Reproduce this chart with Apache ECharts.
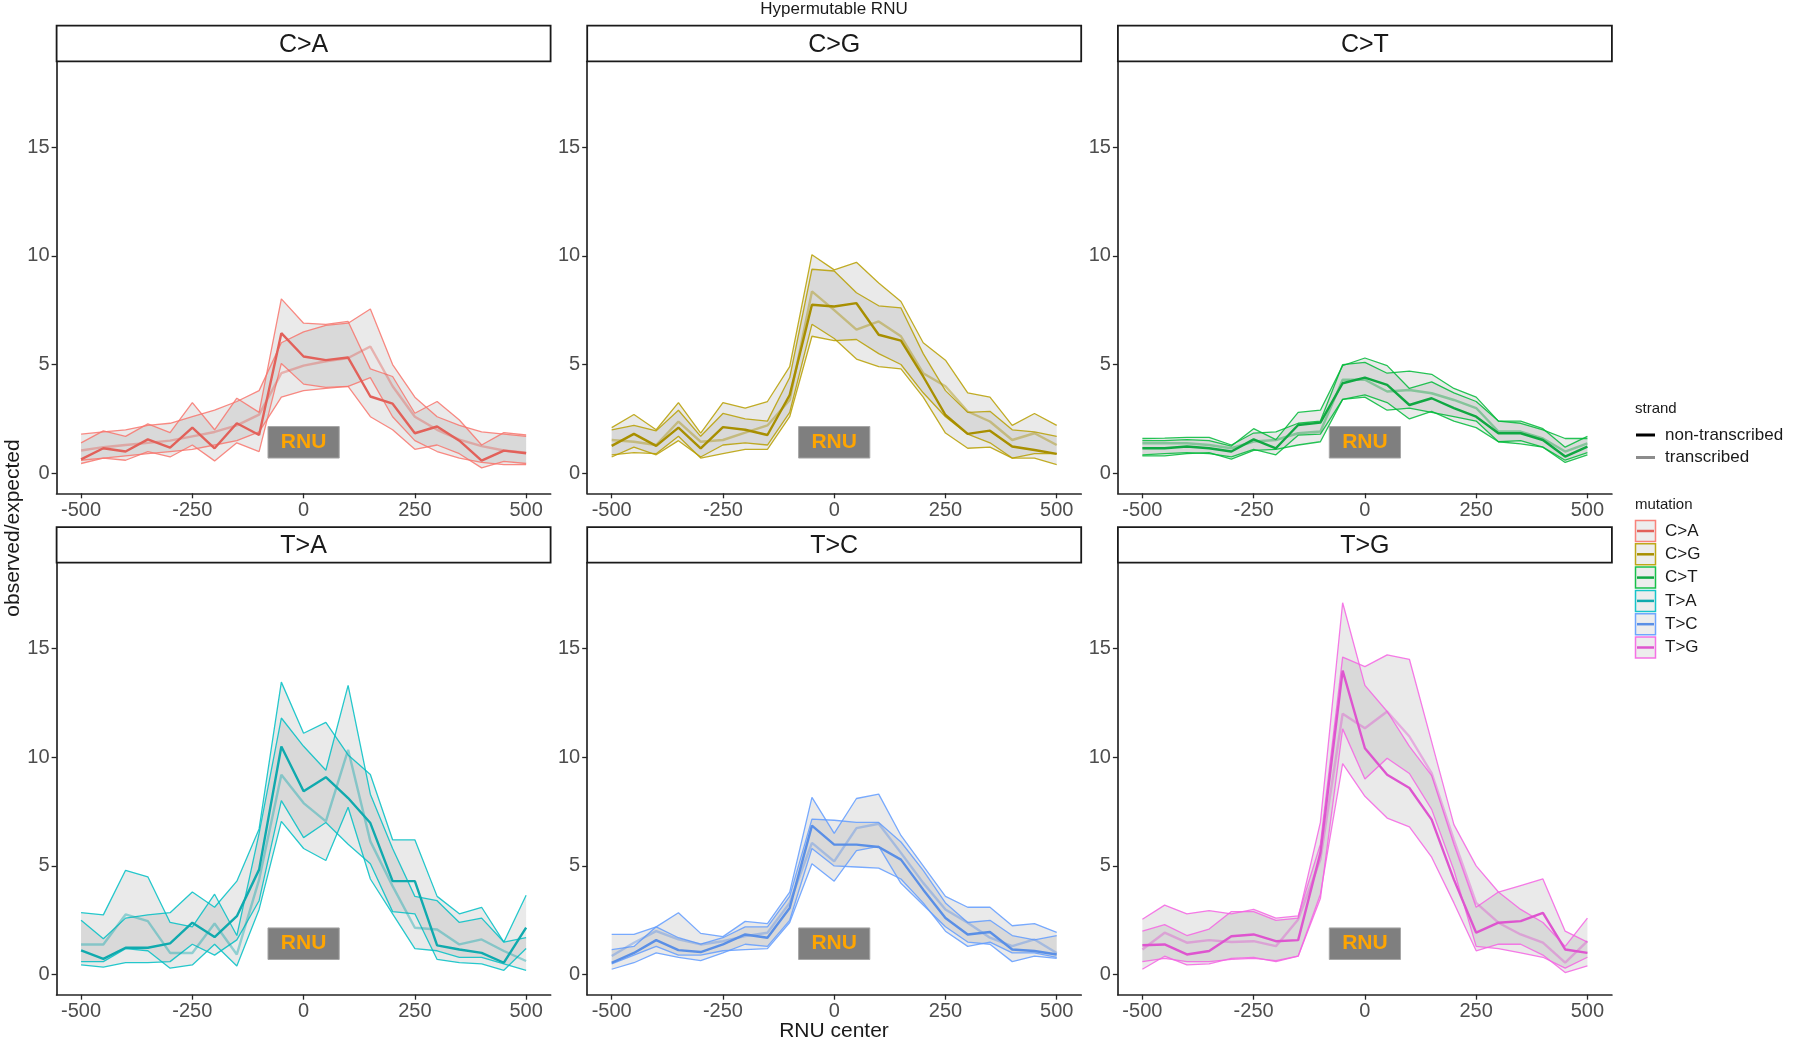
<!DOCTYPE html>
<html><head><meta charset="utf-8">
<script src="https://cdn.jsdelivr.net/npm/echarts@6/dist/echarts.min.js"></script>
<style>html,body{margin:0;padding:0;background:#fff}#c{width:1800px;height:1043px}</style>
</head><body><div id="c"></div>
<script>
// ---------------- DATA ----------------
const xPos = [-500,-450,-400,-350,-300,-250,-200,-150,-100,-50,0,50,100,150,200,250,300,350,400,450,500];
const mutations = ['C>A','C>G','C>T','T>A','T>C','T>G'];
const mutationColors = ['#F8766D','#B79F00','#00BA38','#00BFC4','#619CFF','#F564E3'];
const lineColors = ['#E2615A','#A88F00','#10A842','#10AAAE','#5A8FE6','#DE55CF'];
const strands = ['non-transcribed','transcribed'];
const xTicks = [-500,-250,0,250,500];
const yTicks = [0,5,10,15];
const rnuX = [-80, 80];
const rnuY = [0.7, 2.15];

// C>A
const ca_nt    = [0.64,1.15,1.0,1.56,1.18,2.1,1.15,2.3,1.76,6.44,5.37,5.2,5.32,3.53,3.2,1.84,2.15,1.5,0.58,1.04,0.92];
const ca_nt_hi = [1.4,1.95,1.7,2.27,1.87,3.25,2.0,3.45,2.8,8.02,6.9,6.85,6.98,4.8,4.45,2.76,3.3,2.45,1.3,1.87,1.76];
const ca_nt_lo = [0.45,0.7,0.6,1.0,0.75,1.3,0.57,1.4,1.0,5.05,4.1,3.95,4.0,2.6,2.0,1.1,1.3,0.9,0.25,0.55,0.45];
const ca_tr    = [1.05,1.2,1.3,1.4,1.5,1.7,1.9,2.2,2.7,4.6,4.95,5.15,5.3,5.83,4.0,2.6,2.0,1.55,1.25,1.05,0.95];
const ca_tr_hi = [1.8,1.9,2.0,2.2,2.3,2.6,2.9,3.3,3.8,6.0,6.5,6.8,6.9,7.55,5.0,3.5,2.6,2.2,1.9,1.8,1.7];
const ca_tr_lo = [0.6,0.7,0.8,0.9,1.0,1.1,1.3,1.5,1.9,3.5,3.8,3.9,4.0,4.4,2.6,1.5,1.0,0.7,0.5,0.4,0.4];
// C>G
const cg_nt    = [1.26,1.81,1.26,2.1,1.15,2.12,2.0,1.76,3.6,7.75,7.67,7.82,6.37,6.1,4.45,2.68,1.81,1.96,1.23,1.07,0.89];
const cg_nt_hi = [2.0,2.2,1.95,2.9,1.7,2.75,2.5,2.4,4.4,9.38,9.3,8.3,7.7,7.6,5.5,3.8,2.8,2.85,2.0,1.9,1.7];
const cg_nt_lo = [0.75,1.2,0.85,1.5,0.75,1.3,1.4,1.3,2.8,6.85,6.2,5.25,4.9,4.8,3.5,1.85,1.15,1.2,0.7,0.7,0.4];
const cg_tr    = [1.53,1.45,1.3,2.38,1.45,1.53,1.87,2.2,3.37,8.36,7.5,6.6,6.98,6.3,4.6,4.0,2.84,2.38,1.53,1.84,1.3];
const cg_tr_hi = [2.1,2.7,2.0,3.25,1.85,3.25,3.0,3.3,4.9,10.05,9.35,9.7,8.75,7.9,6.0,5.2,3.7,3.5,2.2,2.75,2.2];
const cg_tr_lo = [0.85,0.95,0.9,1.7,0.7,0.9,1.1,1.1,2.6,6.3,6.1,6.15,5.5,5.0,3.7,2.6,1.8,1.4,0.7,0.9,0.9];
// C>T
const ct_nt    = [1.15,1.15,1.23,1.15,1.0,1.56,1.15,2.22,2.33,4.14,4.4,4.06,3.14,3.45,3.0,2.6,1.84,1.84,1.53,0.77,1.23];
const ct_nt_hi = [1.5,1.5,1.55,1.5,1.25,2.05,1.55,2.8,2.9,4.95,5.3,4.95,3.9,4.2,3.7,3.3,2.4,2.4,2.05,1.2,1.7];
const ct_nt_lo = [0.85,0.9,0.95,0.9,0.75,1.1,0.85,1.75,1.8,3.4,3.6,3.25,2.5,2.85,2.4,2.1,1.45,1.35,1.2,0.5,0.85];
const ct_tr    = [1.38,1.38,1.38,1.3,1.15,1.46,1.53,1.84,1.92,4.3,4.3,3.76,3.83,3.68,3.37,3.0,1.92,1.92,1.6,1.0,1.38];
const ct_tr_hi = [1.6,1.62,1.65,1.65,1.3,1.85,1.9,2.3,2.4,5.0,5.1,4.6,4.7,4.55,3.9,3.5,2.4,2.3,2.0,1.6,1.6];
const ct_tr_lo = [0.8,0.8,0.9,0.95,0.65,1.05,1.1,1.3,1.45,3.4,3.5,2.9,3.0,2.8,2.6,2.4,1.45,1.5,1.2,0.6,0.95];
// T>A
const ta_nt    = [1.12,0.73,1.24,1.24,1.44,2.39,1.73,2.69,4.83,10.49,8.43,9.08,8.12,6.97,4.3,4.3,1.35,1.16,1.0,0.55,2.16];
const ta_nt_hi = [2.5,1.65,2.6,2.75,2.85,3.8,3.1,4.3,6.7,13.45,11.1,11.6,10.1,9.2,6.2,6.2,3.6,2.8,3.1,1.5,3.65];
const ta_nt_lo = [0.45,0.35,0.55,0.55,0.6,1.4,0.9,1.6,3.4,8.0,6.3,7.0,6.0,5.1,2.9,2.8,0.7,0.55,0.5,0.2,1.2];
const ta_tr    = [1.39,1.39,2.77,2.46,1.0,1.0,2.35,0.93,4.37,9.19,7.89,7.05,10.34,6.13,4.07,2.16,2.08,1.39,1.62,1.09,0.63];
const ta_tr_hi = [2.85,2.75,4.8,4.5,2.4,2.2,3.7,1.8,6.5,11.8,10.5,9.4,13.3,8.3,5.8,3.6,3.4,2.4,2.6,1.5,1.7];
const ta_tr_lo = [0.6,0.6,1.2,1.1,0.3,0.45,1.4,0.4,3.0,7.05,5.8,5.25,7.7,4.4,2.8,1.2,1.1,0.8,0.8,0.5,0.2];
// T>C
const tc_nt    = [0.55,1.0,1.59,1.13,1.04,1.39,1.85,1.7,3.07,6.85,5.98,5.98,5.87,5.29,3.91,2.61,1.85,1.96,1.16,1.09,0.93];
const tc_nt_hi = [1.15,1.3,2.2,1.7,1.4,1.7,2.2,2.2,3.6,7.15,7.1,7.0,7.0,6.1,4.8,3.3,2.4,2.5,1.8,1.6,1.8];
const tc_nt_lo = [0.25,0.55,1.0,0.8,0.65,1.0,1.4,1.3,2.5,5.8,5.0,4.95,4.9,4.4,3.3,2.0,1.3,1.5,1.0,1.0,0.8];
const tc_tr    = [0.86,1.47,2.0,1.62,1.39,1.54,1.77,1.93,3.3,6.06,5.21,6.74,6.94,5.6,4.22,3.0,2.39,1.7,1.31,1.62,1.0];
const tc_tr_hi = [1.85,1.85,2.2,2.85,1.9,1.75,2.45,2.35,3.8,8.15,6.5,8.1,8.3,6.4,5.0,3.6,3.1,3.1,2.25,2.35,1.95];
const tc_tr_lo = [0.5,0.9,1.3,0.9,0.9,1.1,1.15,1.2,2.4,5.1,4.3,5.7,5.9,4.2,3.2,2.2,1.5,1.4,0.6,0.85,0.75];
// T>G
const tg_nt    = [1.35,1.39,0.93,1.09,1.77,1.85,1.54,1.59,5.6,13.98,10.41,9.19,8.58,7.13,4.37,1.93,2.39,2.46,2.84,1.16,1.0];
const tg_nt_hi = [2.0,2.3,1.8,2.1,2.9,2.9,2.5,2.6,7.0,17.1,13.3,12.1,10.5,9.15,6.0,3.1,3.8,4.1,4.4,2.0,1.5];
const tg_nt_lo = [0.25,0.85,0.45,0.5,0.75,0.8,0.6,0.85,3.7,9.7,8.2,7.2,6.8,5.4,3.3,1.1,1.4,1.4,0.9,0.1,0.4];
const tg_tr    = [1.16,1.93,1.47,1.59,1.5,1.54,1.31,2.54,5.3,12.0,11.33,12.1,10.95,9.27,6.2,3.3,2.39,1.85,1.47,0.55,1.54];
const tg_tr_hi = [2.55,3.2,2.8,2.95,2.8,3.0,2.6,2.7,6.0,14.6,14.16,14.7,14.5,10.7,6.9,5.0,3.8,3.0,2.4,1.3,2.6];
const tg_tr_lo = [0.6,0.75,0.6,0.6,0.7,0.75,0.65,0.85,3.5,11.3,9.0,9.95,9.25,7.6,4.8,1.3,1.2,1.0,0.8,0.3,0.8];

// ---------------- BUILD ----------------
const panelData = [
  [ca_nt, ca_nt_lo, ca_nt_hi, ca_tr, ca_tr_lo, ca_tr_hi],
  [cg_nt, cg_nt_lo, cg_nt_hi, cg_tr, cg_tr_lo, cg_tr_hi],
  [ct_nt, ct_nt_lo, ct_nt_hi, ct_tr, ct_tr_lo, ct_tr_hi],
  [ta_nt, ta_nt_lo, ta_nt_hi, ta_tr, ta_tr_lo, ta_tr_hi],
  [tc_nt, tc_nt_lo, tc_nt_hi, tc_tr, tc_tr_lo, tc_tr_hi],
  [tg_nt, tg_nt_lo, tg_nt_hi, tg_tr, tg_tr_lo, tg_tr_hi]
];

const FONT = '"Liberation Sans", Arial, Helvetica, sans-serif';
const colLeft = [56.6, 587.2, 1117.9];
const rowTop = [61.3, 562.7];
const PW = 494, PH = 432, STRIP = 35.6;

const grids = [], xAxes = [], yAxes = [], series = [], graphics = [];

function pts(vals){ return xPos.map((x,j)=>[x, vals[j]]); }

function ribbon(i, lo, hi){
  return {
    type:'custom', coordinateSystem:'cartesian2d', xAxisIndex:i, yAxisIndex:i,
    z:1, silent:true, animation:false,
    data:[[0,0]],
    renderItem:function(params, api){
      const p = [];
      for (let j=0;j<xPos.length;j++) p.push(api.coord([xPos[j], hi[j]]));
      for (let j=xPos.length-1;j>=0;j--) p.push(api.coord([xPos[j], lo[j]]));
      return {type:'polygon', shape:{points:p}, style:{fill:'rgba(150,150,150,0.2)'}};
    }
  };
}
function line(i, vals, color, width, opacity, z){
  return {type:'line', xAxisIndex:i, yAxisIndex:i, data:pts(vals), symbol:'none',
    lineStyle:{color:color, width:width, opacity:opacity}, z:z, silent:true, animation:false};
}

for (let i=0;i<6;i++){
  const c = i%3, r = Math.floor(i/3);
  const L = colLeft[c], T = rowTop[r];
  grids.push({left:L, top:T, width:PW, height:PH, containLabel:false});
  xAxes.push({gridIndex:i, type:'value', min:-555, max:555,
    axisLine:{show:true, onZero:false, lineStyle:{color:'#262626', width:1.7}},
    axisTick:{show:true, length:5, customValues:xTicks, lineStyle:{color:'#262626', width:1.3}},
    axisLabel:{customValues:xTicks, color:'#4D4D4D', fontSize:20, fontFamily:FONT, margin:7},
    splitLine:{show:false}});
  yAxes.push({gridIndex:i, type:'value', min:-0.92, max:18.94,
    axisLine:{show:true, onZero:false, lineStyle:{color:'#262626', width:1.7}},
    axisTick:{show:true, length:5, customValues:yTicks, lineStyle:{color:'#262626', width:1.3}},
    axisLabel:{customValues:yTicks, color:'#4D4D4D', fontSize:20, fontFamily:FONT, margin:7},
    splitLine:{show:false}});
  const d = panelData[i], col = mutationColors[i];
  series.push(ribbon(i, d[4], d[5]));
  series.push(ribbon(i, d[1], d[2]));
  series.push(line(i, d[4], col, 1.3, 0.85, 2));
  series.push(line(i, d[5], col, 1.3, 0.85, 2));
  series.push(line(i, d[1], col, 1.3, 0.85, 2));
  series.push(line(i, d[2], col, 1.3, 0.85, 2));
  series.push(line(i, d[3], lineColors[i], 2.4, 0.42, 3));
  series.push(line(i, d[0], lineColors[i], 2.4, 1, 4));
  // RNU annotation
  series.push({type:'scatter', xAxisIndex:i, yAxisIndex:i, data:[[0, (rnuY[0]+rnuY[1])/2]], symbolSize:0,
    silent:true, animation:false, z:6,
    markArea:{silent:true, animation:false,
      itemStyle:{color:'#7F7F7F', borderColor:'#A6A6A6', borderWidth:1, opacity:1},
      label:{show:true, position:'inside', formatter:'RNU', color:'#FFA500', fontWeight:'bold', fontSize:21, fontFamily:FONT},
      data:[[{coord:[rnuX[0], rnuY[0]]},{coord:[rnuX[1], rnuY[1]]}]]}});
  // strip
  graphics.push({type:'rect', shape:{x:L, y:T-STRIP, width:PW, height:STRIP},
    style:{fill:'#fff', stroke:'#1A1A1A', lineWidth:1.8}, z:10});
  graphics.push({type:'text', x:L+PW/2, y:T-STRIP/2+1.5, style:{text:mutations[i], fill:'#1A1A1A',
    font:'25px '+FONT, textAlign:'center', textVerticalAlign:'middle'}, z:11});
}

// titles
graphics.push({type:'text', x:834, y:9, style:{text:'Hypermutable RNU', fill:'#1A1A1A', font:'17px '+FONT, textAlign:'center', textVerticalAlign:'middle'}});
graphics.push({type:'text', x:834, y:1031, style:{text:'RNU center', fill:'#1A1A1A', font:'21px '+FONT, textAlign:'center', textVerticalAlign:'middle'}});
graphics.push({type:'text', x:13, y:528, rotation:Math.PI/2, style:{text:'observed/expected', fill:'#1A1A1A', font:'21px '+FONT, textAlign:'center', textVerticalAlign:'middle'}});

// legend: strand
graphics.push({type:'text', x:1635, y:409, style:{text:'strand', fill:'#1A1A1A', font:'15px '+FONT, textAlign:'left', textVerticalAlign:'middle'}});
const strandColors = ['#000000', '#8C8C8C'];
strands.forEach((s,k)=>{
  const cy = 435 + k*22.5;
  graphics.push({type:'line', shape:{x1:1636, y1:cy, x2:1655, y2:cy}, style:{stroke:strandColors[k], lineWidth:3}});
  graphics.push({type:'text', x:1665, y:cy, style:{text:s, fill:'#1A1A1A', font:'17px '+FONT, textAlign:'left', textVerticalAlign:'middle'}});
});
// legend: mutation
graphics.push({type:'text', x:1635, y:505, style:{text:'mutation', fill:'#1A1A1A', font:'15px '+FONT, textAlign:'left', textVerticalAlign:'middle'}});
mutations.forEach((m,k)=>{
  const cy = 531 + k*23.3;
  graphics.push({type:'rect', shape:{x:1635.5, y:cy-10.5, width:20, height:21},
    style:{fill:'#EBEBEB', stroke:mutationColors[k], lineWidth:1.5, opacity:0.9}});
  graphics.push({type:'line', shape:{x1:1637, y1:cy, x2:1654, y2:cy}, style:{stroke:lineColors[k], lineWidth:2.5}});
  graphics.push({type:'text', x:1665, y:cy, style:{text:m, fill:'#1A1A1A', font:'17px '+FONT, textAlign:'left', textVerticalAlign:'middle'}});
});

const chart = echarts.init(document.getElementById('c'), null, {renderer:'canvas'});
chart.setOption({
  backgroundColor:'#ffffff',
  animation:false,
  grid:grids, xAxis:xAxes, yAxis:yAxes, series:series, graphic:graphics
});
</script>
</body></html>
